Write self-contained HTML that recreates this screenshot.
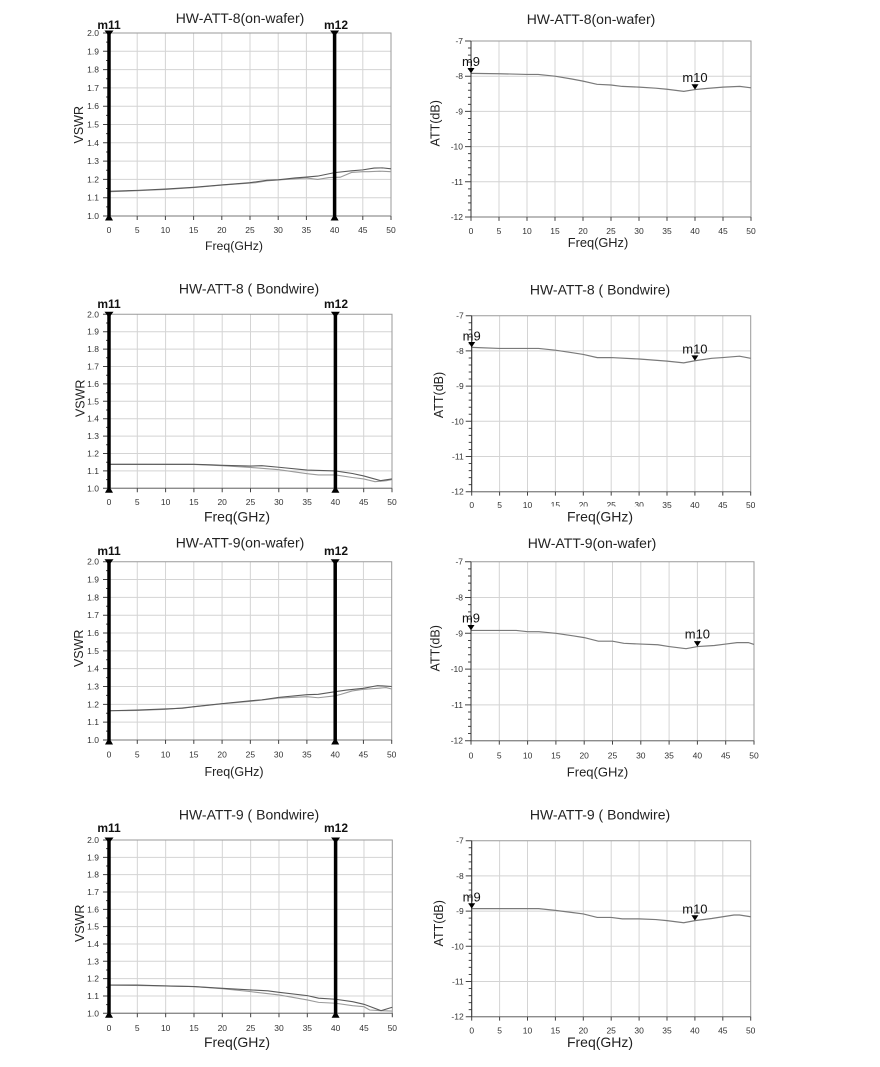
<!DOCTYPE html>
<html><head><meta charset="utf-8">
<style>
html,body{margin:0;padding:0;background:#fff;}
svg{display:block;font-family:"Liberation Sans",Arial,sans-serif;}
path,rect,polyline,line{vector-effect:non-scaling-stroke;}
.g{fill:none;stroke:#d4d4d4;stroke-width:1;}
.fr{fill:none;stroke:#9a9a9a;stroke-width:1;}
.ax{fill:none;stroke:#333;stroke-width:1;}
.bx{fill:none;stroke:#777;stroke-width:1;}
.tk{fill:none;stroke:#444;stroke-width:1;}
.c1{fill:none;stroke:#5a5a5a;stroke-width:1.1;}
.c2{fill:none;stroke:#9a9a9a;stroke-width:1.1;}
.ca{fill:none;stroke:#7a7a7a;stroke-width:1.2;}
.mk{stroke:#000;stroke-width:3.5;}
.tl{font-size:8.5px;fill:#333;}
.ttl{font-size:14px;fill:#222;}
.al{fill:#222;}
.ml{font-size:12px;font-weight:bold;fill:#111;}
.ma{font-size:13px;fill:#111;}
</style></head>
<body>
<svg width="880" height="1067" viewBox="0 0 880 1067" xmlns="http://www.w3.org/2000/svg">

<!-- ================= ROW 1 LEFT ================= -->
<text class="ttl" x="240" y="23" text-anchor="middle">HW-ATT-8(on-wafer)</text>
<g transform="translate(109,216) scale(5.64,-18.3)">
<path class="g" d="M5,0V10M10,0V10M15,0V10M20,0V10M25,0V10M30,0V10M35,0V10M40,0V10M45,0V10M0,1H50M0,2H50M0,3H50M0,4H50M0,5H50M0,6H50M0,7H50M0,8H50M0,9H50"/>
<rect class="fr" x="0" y="0" width="50" height="10"/>
<path class="bx" d="M0,0H50"/>
<path class="tk" d="M0,0h-1.06M0,1h-1.06M0,2h-1.06M0,3h-1.06M0,4h-1.06M0,5h-1.06M0,6h-1.06M0,7h-1.06M0,8h-1.06M0,9h-1.06M0,10h-1.06M0,0.5h-0.53M0,1.5h-0.53M0,2.5h-0.53M0,3.5h-0.53M0,4.5h-0.53M0,5.5h-0.53M0,6.5h-0.53M0,7.5h-0.53M0,8.5h-0.53M0,9.5h-0.53M0,0v-0.22M5,0v-0.22M10,0v-0.22M15,0v-0.22M20,0v-0.22M25,0v-0.22M30,0v-0.22M35,0v-0.22M40,0v-0.22M45,0v-0.22M50,0v-0.22"/>
<polyline class="c2" points="0,1.33 5,1.38 10,1.45 15,1.55 20,1.69 25,1.8 26,1.82 28,1.92 30,1.97 33,2.03 35,2.08 37,2.0 39,2.1 41,2.12 43,2.38 45,2.42 46,2.42 48,2.45 50,2.42"/>
<polyline class="c1" points="0,1.35 5,1.4 10,1.47 15,1.57 20,1.7 25,1.82 28,1.95 30,1.98 33,2.08 35,2.13 37,2.18 40,2.37 43,2.47 45,2.52 47,2.62 48.5,2.63 50,2.58"/>
</g>
<line class="ax" x1="109" y1="33" x2="109" y2="216"/>
<g class="tl" text-anchor="end">
<text x="99" y="219">1.0</text><text x="99" y="200.7">1.1</text><text x="99" y="182.4">1.2</text><text x="99" y="164.1">1.3</text><text x="99" y="145.8">1.4</text><text x="99" y="127.5">1.5</text><text x="99" y="109.2">1.6</text><text x="99" y="90.9">1.7</text><text x="99" y="72.6">1.8</text><text x="99" y="54.3">1.9</text><text x="99" y="36">2.0</text>
</g>
<g class="tl" text-anchor="middle">
<text x="109" y="233">0</text><text x="137.2" y="233">5</text><text x="165.4" y="233">10</text><text x="193.6" y="233">15</text><text x="221.8" y="233">20</text><text x="250" y="233">25</text><text x="278.2" y="233">30</text><text x="306.4" y="233">35</text><text x="334.6" y="233">40</text><text x="362.8" y="233">45</text><text x="391" y="233">50</text>
</g>
<line class="mk" x1="109" y1="33" x2="109" y2="216"/>
<line class="mk" x1="334.6" y1="33" x2="334.6" y2="216"/>
<path d="M104.5,30.5H113.5L109,36.5ZM330.1,30.5H339.1L334.6,36.5ZM105,220.5H113L109,213.5ZM330.6,220.5H338.6L334.6,213.5Z" fill="#000"/>
<text class="ml" x="109" y="29" text-anchor="middle">m11</text>
<text class="ml" x="336" y="29" text-anchor="middle">m12</text>
<text class="al" font-size="12.5" text-anchor="middle" transform="translate(83,124.7) rotate(-90)">VSWR</text>
<text class="al" font-size="12.3" x="234" y="250" text-anchor="middle">Freq(GHz)</text>

<!-- ================= ROW 1 RIGHT ================= -->
<text class="ttl" x="591" y="24" text-anchor="middle">HW-ATT-8(on-wafer)</text>
<g transform="translate(471,217) scale(5.6,-35.2)">
<path class="g" d="M5,0V5M10,0V5M15,0V5M20,0V5M25,0V5M30,0V5M35,0V5M40,0V5M45,0V5M0,1H50M0,2H50M0,3H50M0,4H50"/>
<rect class="fr" x="0" y="0" width="50" height="5"/>
<path class="bx" d="M0,0H50"/>
<path class="tk" d="M0,0h-1.07M0,1h-1.07M0,2h-1.07M0,3h-1.07M0,4h-1.07M0,5h-1.07M0,0.2h-0.54M0,0.4h-0.54M0,0.6h-0.54M0,0.8h-0.54M0,1.2h-0.54M0,1.4h-0.54M0,1.6h-0.54M0,1.8h-0.54M0,2.2h-0.54M0,2.4h-0.54M0,2.6h-0.54M0,2.8h-0.54M0,3.2h-0.54M0,3.4h-0.54M0,3.6h-0.54M0,3.8h-0.54M0,4.2h-0.54M0,4.4h-0.54M0,4.6h-0.54M0,4.8h-0.54M0,0v-0.11M5,0v-0.11M10,0v-0.11M15,0v-0.11M20,0v-0.11M25,0v-0.11M30,0v-0.11M35,0v-0.11M40,0v-0.11M45,0v-0.11M50,0v-0.11"/>
<polyline class="ca" points="0,4.08 5,4.07 10,4.05 12,4.05 15,4.0 18,3.92 20,3.86 22.5,3.77 25,3.75 27,3.71 30,3.69 33,3.66 35,3.63 38,3.57 40,3.62 42,3.65 45,3.69 48,3.71 50,3.67"/>
</g>
<line class="ax" x1="471" y1="41" x2="471" y2="217"/>
<g class="tl" text-anchor="end">
<text x="463" y="44">-7</text><text x="463" y="79.2">-8</text><text x="463" y="114.4">-9</text><text x="463" y="149.6">-10</text><text x="463" y="184.8">-11</text><text x="463" y="220">-12</text>
</g>
<g class="tl" text-anchor="middle">
<text x="471" y="234">0</text><text x="499" y="234">5</text><text x="527" y="234">10</text><text x="555" y="234">15</text><text x="583" y="234">20</text><text x="611" y="234">25</text><text x="639" y="234">30</text><text x="667" y="234">35</text><text x="695" y="234">40</text><text x="723" y="234">45</text><text x="751" y="234">50</text>
</g>
<path d="M467.5,68H474.5L471,73.4ZM691.5,84.2H698.5L695,89.6Z" fill="#000"/>
<text class="ma" x="471" y="66" text-anchor="middle">m9</text>
<text class="ma" x="695" y="82" text-anchor="middle">m10</text>
<text class="al" font-size="12.5" text-anchor="middle" transform="translate(439.5,123.3) rotate(-90)">ATT(dB)</text>
<text class="al" font-size="12.8" x="598" y="247" text-anchor="middle">Freq(GHz)</text>

<!-- ================= ROW 2 LEFT ================= -->
<text class="ttl" x="249" y="293.3" text-anchor="middle">HW-ATT-8 ( Bondwire)</text>
<g transform="translate(109,488.3) scale(5.66,-17.4)">
<path class="g" d="M5,0V10M10,0V10M15,0V10M20,0V10M25,0V10M30,0V10M35,0V10M40,0V10M45,0V10M0,1H50M0,2H50M0,3H50M0,4H50M0,5H50M0,6H50M0,7H50M0,8H50M0,9H50"/>
<rect class="fr" x="0" y="0" width="50" height="10"/>
<path class="bx" d="M0,0H50"/>
<path class="tk" d="M0,0h-1.06M0,1h-1.06M0,2h-1.06M0,3h-1.06M0,4h-1.06M0,5h-1.06M0,6h-1.06M0,7h-1.06M0,8h-1.06M0,9h-1.06M0,10h-1.06M0,0.5h-0.53M0,1.5h-0.53M0,2.5h-0.53M0,3.5h-0.53M0,4.5h-0.53M0,5.5h-0.53M0,6.5h-0.53M0,7.5h-0.53M0,8.5h-0.53M0,9.5h-0.53M0,0v-0.23M5,0v-0.23M10,0v-0.23M15,0v-0.23M20,0v-0.23M25,0v-0.23M30,0v-0.23M35,0v-0.23M40,0v-0.23M45,0v-0.23M50,0v-0.23"/>
<polyline class="c2" points="0,1.38 15,1.37 20,1.3 25,1.2 30,1.07 35,0.84 37,0.77 40,0.77 43,0.62 45,0.54 47,0.38 49,0.44 50,0.5"/>
<polyline class="c1" points="0,1.38 10,1.38 15,1.38 18,1.35 20,1.32 25,1.28 27,1.3 30,1.21 35,1.05 40,1.0 43,0.85 45,0.71 48,0.44 50,0.54"/>
</g>
<line class="ax" x1="109" y1="314.3" x2="109" y2="488.3"/>
<g class="tl" text-anchor="end">
<text x="99" y="491.3">1.0</text><text x="99" y="473.9">1.1</text><text x="99" y="456.5">1.2</text><text x="99" y="439.1">1.3</text><text x="99" y="421.7">1.4</text><text x="99" y="404.3">1.5</text><text x="99" y="386.9">1.6</text><text x="99" y="369.5">1.7</text><text x="99" y="352.1">1.8</text><text x="99" y="334.7">1.9</text><text x="99" y="317.3">2.0</text>
</g>
<g class="tl" text-anchor="middle">
<text x="109" y="505">0</text><text x="137.3" y="505">5</text><text x="165.6" y="505">10</text><text x="193.9" y="505">15</text><text x="222.2" y="505">20</text><text x="250.5" y="505">25</text><text x="278.8" y="505">30</text><text x="307.1" y="505">35</text><text x="335.4" y="505">40</text><text x="363.7" y="505">45</text><text x="392" y="505">50</text>
</g>
<line class="mk" x1="109" y1="314.3" x2="109" y2="488.3"/>
<line class="mk" x1="335.4" y1="314.3" x2="335.4" y2="488.3"/>
<path d="M104.5,311.8H113.5L109,317.8ZM330.9,311.8H339.9L335.4,317.8ZM105,492.8H113L109,485.8ZM331.4,492.8H339.4L335.4,485.8Z" fill="#000"/>
<text class="ml" x="109" y="308" text-anchor="middle">m11</text>
<text class="ml" x="336" y="308" text-anchor="middle">m12</text>
<text class="al" font-size="12.5" text-anchor="middle" transform="translate(84.5,398.3) rotate(-90)">VSWR</text>
<text class="al" font-size="14" x="237" y="521.7" text-anchor="middle">Freq(GHz)</text>

<!-- ================= ROW 2 RIGHT ================= -->
<text class="ttl" x="600" y="294.3" text-anchor="middle">HW-ATT-8 ( Bondwire)</text>
<g transform="translate(471.7,491.7) scale(5.58,-35.2)">
<path class="g" d="M5,0V5M10,0V5M15,0V5M20,0V5M25,0V5M30,0V5M35,0V5M40,0V5M45,0V5M0,1H50M0,2H50M0,3H50M0,4H50"/>
<rect class="fr" x="0" y="0" width="50" height="5"/>
<path class="bx" d="M0,0H50"/>
<path class="tk" d="M0,0h-1.07M0,1h-1.07M0,2h-1.07M0,3h-1.07M0,4h-1.07M0,5h-1.07M0,0.2h-0.54M0,0.4h-0.54M0,0.6h-0.54M0,0.8h-0.54M0,1.2h-0.54M0,1.4h-0.54M0,1.6h-0.54M0,1.8h-0.54M0,2.2h-0.54M0,2.4h-0.54M0,2.6h-0.54M0,2.8h-0.54M0,3.2h-0.54M0,3.4h-0.54M0,3.6h-0.54M0,3.8h-0.54M0,4.2h-0.54M0,4.4h-0.54M0,4.6h-0.54M0,4.8h-0.54M0,0v-0.11M5,0v-0.11M10,0v-0.11M15,0v-0.11M20,0v-0.11M25,0v-0.11M30,0v-0.11M35,0v-0.11M40,0v-0.11M45,0v-0.11M50,0v-0.11"/>
<polyline class="ca" points="0,4.1 5,4.07 12,4.07 15,4.02 18,3.95 20,3.9 22.5,3.81 25,3.81 30,3.77 35,3.71 38,3.66 40,3.72 43,3.79 45,3.81 48,3.85 50,3.79"/>
</g>
<line class="ax" x1="471.7" y1="315.7" x2="471.7" y2="491.7"/>
<g class="tl" text-anchor="end">
<text x="463.7" y="318.7">-7</text><text x="463.7" y="353.9">-8</text><text x="463.7" y="389.1">-9</text><text x="463.7" y="424.3">-10</text><text x="463.7" y="459.5">-11</text><text x="463.7" y="494.7">-12</text>
</g>
<g class="tl" text-anchor="middle">
<text x="471.7" y="508">0</text><text x="499.6" y="508">5</text><text x="527.5" y="508">10</text><text x="555.4" y="508">15</text><text x="583.3" y="508">20</text><text x="611.2" y="508">25</text><text x="639.1" y="508">30</text><text x="667" y="508">35</text><text x="694.9" y="508">40</text><text x="722.8" y="508">45</text><text x="750.7" y="508">50</text>
</g>
<rect x="549" y="506.5" width="99" height="19" fill="#fff"/>
<path d="M468.2,342H475.2L471.7,347.4ZM691.4,355.4H698.4L694.9,360.8Z" fill="#000"/>
<text class="ma" x="471.7" y="340.5" text-anchor="middle">m9</text>
<text class="ma" x="694.9" y="353.5" text-anchor="middle">m10</text>
<text class="al" font-size="12.5" text-anchor="middle" transform="translate(442.8,395) rotate(-90)">ATT(dB)</text>
<text class="al" font-size="14" x="600" y="521.7" text-anchor="middle">Freq(GHz)</text>

<!-- ================= ROW 3 LEFT ================= -->
<text class="ttl" x="240" y="547.3" text-anchor="middle">HW-ATT-9(on-wafer)</text>
<g transform="translate(109,740) scale(5.654,-17.83)">
<path class="g" d="M5,0V10M10,0V10M15,0V10M20,0V10M25,0V10M30,0V10M35,0V10M40,0V10M45,0V10M0,1H50M0,2H50M0,3H50M0,4H50M0,5H50M0,6H50M0,7H50M0,8H50M0,9H50"/>
<rect class="fr" x="0" y="0" width="50" height="10"/>
<path class="bx" d="M0,0H50"/>
<path class="tk" d="M0,0h-1.06M0,1h-1.06M0,2h-1.06M0,3h-1.06M0,4h-1.06M0,5h-1.06M0,6h-1.06M0,7h-1.06M0,8h-1.06M0,9h-1.06M0,10h-1.06M0,0.5h-0.53M0,1.5h-0.53M0,2.5h-0.53M0,3.5h-0.53M0,4.5h-0.53M0,5.5h-0.53M0,6.5h-0.53M0,7.5h-0.53M0,8.5h-0.53M0,9.5h-0.53M0,0v-0.22M5,0v-0.22M10,0v-0.22M15,0v-0.22M20,0v-0.22M25,0v-0.22M30,0v-0.22M35,0v-0.22M40,0v-0.22M45,0v-0.22M50,0v-0.22"/>
<polyline class="c2" points="0,1.64 5,1.66 10,1.72 15,1.86 20,2.03 25,2.17 30,2.35 35,2.43 37,2.37 40,2.48 41,2.56 43,2.75 45,2.84 47.5,2.9 49,2.94 50,2.86"/>
<polyline class="c1" points="0,1.64 5,1.68 10,1.74 13,1.78 15,1.87 20,2.04 25,2.2 27,2.25 30,2.39 35,2.54 37,2.56 40,2.71 42,2.8 45,2.9 47.5,3.05 50,3.0"/>
</g>
<line class="ax" x1="109" y1="561.7" x2="109" y2="740"/>
<g class="tl" text-anchor="end">
<text x="99" y="743">1.0</text><text x="99" y="725.2">1.1</text><text x="99" y="707.3">1.2</text><text x="99" y="689.5">1.3</text><text x="99" y="671.7">1.4</text><text x="99" y="653.9">1.5</text><text x="99" y="636">1.6</text><text x="99" y="618.2">1.7</text><text x="99" y="600.4">1.8</text><text x="99" y="582.5">1.9</text><text x="99" y="564.7">2.0</text>
</g>
<g class="tl" text-anchor="middle">
<text x="109" y="757.7">0</text><text x="137.3" y="757.7">5</text><text x="165.5" y="757.7">10</text><text x="193.8" y="757.7">15</text><text x="222.1" y="757.7">20</text><text x="250.4" y="757.7">25</text><text x="278.6" y="757.7">30</text><text x="306.9" y="757.7">35</text><text x="335.2" y="757.7">40</text><text x="363.4" y="757.7">45</text><text x="391.7" y="757.7">50</text>
</g>
<line class="mk" x1="109" y1="561.7" x2="109" y2="740"/>
<line class="mk" x1="335.2" y1="561.7" x2="335.2" y2="740"/>
<path d="M104.5,559.2H113.5L109,565.2ZM330.7,559.2H339.7L335.2,565.2ZM105,744.5H113L109,737.5ZM331.2,744.5H339.2L335.2,737.5Z" fill="#000"/>
<text class="ml" x="109" y="555" text-anchor="middle">m11</text>
<text class="ml" x="336" y="555" text-anchor="middle">m12</text>
<text class="al" font-size="12.5" text-anchor="middle" transform="translate(82.8,648.3) rotate(-90)">VSWR</text>
<text class="al" font-size="12.5" x="234" y="776" text-anchor="middle">Freq(GHz)</text>

<!-- ================= ROW 3 RIGHT ================= -->
<text class="ttl" x="592" y="548" text-anchor="middle">HW-ATT-9(on-wafer)</text>
<g transform="translate(471,740.7) scale(5.66,-35.8)">
<path class="g" d="M5,0V5M10,0V5M15,0V5M20,0V5M25,0V5M30,0V5M35,0V5M40,0V5M45,0V5M0,1H50M0,2H50M0,3H50M0,4H50"/>
<rect class="fr" x="0" y="0" width="50" height="5"/>
<path class="bx" d="M0,0H50"/>
<path class="tk" d="M0,0h-1.06M0,1h-1.06M0,2h-1.06M0,3h-1.06M0,4h-1.06M0,5h-1.06M0,0.2h-0.53M0,0.4h-0.53M0,0.6h-0.53M0,0.8h-0.53M0,1.2h-0.53M0,1.4h-0.53M0,1.6h-0.53M0,1.8h-0.53M0,2.2h-0.53M0,2.4h-0.53M0,2.6h-0.53M0,2.8h-0.53M0,3.2h-0.53M0,3.4h-0.53M0,3.6h-0.53M0,3.8h-0.53M0,4.2h-0.53M0,4.4h-0.53M0,4.6h-0.53M0,4.8h-0.53M0,0v-0.11M5,0v-0.11M10,0v-0.11M15,0v-0.11M20,0v-0.11M25,0v-0.11M30,0v-0.11M35,0v-0.11M40,0v-0.11M45,0v-0.11M50,0v-0.11"/>
<polyline class="ca" points="0,3.08 8,3.08 10,3.045 12,3.045 15,3.0 18,2.93 20,2.88 22.5,2.78 25,2.78 27,2.72 30,2.7 33,2.68 35,2.63 38,2.57 40,2.63 43,2.66 45,2.7 47,2.74 49,2.74 50,2.69"/>
</g>
<line class="ax" x1="471" y1="561.7" x2="471" y2="740.7"/>
<g class="tl" text-anchor="end">
<text x="463" y="564.7">-7</text><text x="463" y="600.5">-8</text><text x="463" y="636.3">-9</text><text x="463" y="672.1">-10</text><text x="463" y="707.9">-11</text><text x="463" y="743.7">-12</text>
</g>
<g class="tl" text-anchor="middle">
<text x="471" y="758.7">0</text><text x="499.3" y="758.7">5</text><text x="527.6" y="758.7">10</text><text x="555.9" y="758.7">15</text><text x="584.2" y="758.7">20</text><text x="612.5" y="758.7">25</text><text x="640.8" y="758.7">30</text><text x="669.1" y="758.7">35</text><text x="697.4" y="758.7">40</text><text x="725.7" y="758.7">45</text><text x="754" y="758.7">50</text>
</g>
<path d="M467.5,625H474.5L471,630.4ZM693.9,641.1H700.9L697.4,646.5Z" fill="#000"/>
<text class="ma" x="471" y="622.5" text-anchor="middle">m9</text>
<text class="ma" x="697.4" y="638.5" text-anchor="middle">m10</text>
<text class="al" font-size="12.5" text-anchor="middle" transform="translate(439.5,648.3) rotate(-90)">ATT(dB)</text>
<text class="al" font-size="13" x="597.5" y="776.7" text-anchor="middle">Freq(GHz)</text>

<!-- ================= ROW 4 LEFT ================= -->
<text class="ttl" x="249" y="819.3" text-anchor="middle">HW-ATT-9 ( Bondwire)</text>
<g transform="translate(109,1013.3) scale(5.666,-17.33)">
<path class="g" d="M5,0V10M10,0V10M15,0V10M20,0V10M25,0V10M30,0V10M35,0V10M40,0V10M45,0V10M0,1H50M0,2H50M0,3H50M0,4H50M0,5H50M0,6H50M0,7H50M0,8H50M0,9H50"/>
<rect class="fr" x="0" y="0" width="50" height="10"/>
<path class="bx" d="M0,0H50"/>
<path class="tk" d="M0,0h-1.06M0,1h-1.06M0,2h-1.06M0,3h-1.06M0,4h-1.06M0,5h-1.06M0,6h-1.06M0,7h-1.06M0,8h-1.06M0,9h-1.06M0,10h-1.06M0,0.5h-0.53M0,1.5h-0.53M0,2.5h-0.53M0,3.5h-0.53M0,4.5h-0.53M0,5.5h-0.53M0,6.5h-0.53M0,7.5h-0.53M0,8.5h-0.53M0,9.5h-0.53M0,0v-0.23M5,0v-0.23M10,0v-0.23M15,0v-0.23M20,0v-0.23M25,0v-0.23M30,0v-0.23M35,0v-0.23M40,0v-0.23M45,0v-0.23M50,0v-0.23"/>
<polyline class="c2" points="0,1.63 10,1.58 15,1.54 20,1.42 25,1.25 30,1.06 35,0.77 37,0.63 40,0.58 43,0.44 45,0.38 46,0.19 48,0.15 50,0.13"/>
<polyline class="c1" points="0,1.63 5,1.63 10,1.58 15,1.54 20,1.44 25,1.35 28,1.3 30,1.21 35,1.02 37,0.87 40,0.81 43,0.67 45,0.52 48,0.15 50,0.35"/>
</g>
<line class="ax" x1="109" y1="840" x2="109" y2="1013.3"/>
<g class="tl" text-anchor="end">
<text x="99" y="1016.3">1.0</text><text x="99" y="999">1.1</text><text x="99" y="981.7">1.2</text><text x="99" y="964.3">1.3</text><text x="99" y="947">1.4</text><text x="99" y="929.7">1.5</text><text x="99" y="912.3">1.6</text><text x="99" y="895">1.7</text><text x="99" y="877.7">1.8</text><text x="99" y="860.3">1.9</text><text x="99" y="843">2.0</text>
</g>
<g class="tl" text-anchor="middle">
<text x="109" y="1031">0</text><text x="137.3" y="1031">5</text><text x="165.7" y="1031">10</text><text x="194" y="1031">15</text><text x="222.3" y="1031">20</text><text x="250.7" y="1031">25</text><text x="279" y="1031">30</text><text x="307.3" y="1031">35</text><text x="335.6" y="1031">40</text><text x="364" y="1031">45</text><text x="392.3" y="1031">50</text>
</g>
<line class="mk" x1="109" y1="840" x2="109" y2="1013.3"/>
<line class="mk" x1="335.6" y1="840" x2="335.6" y2="1013.3"/>
<path d="M104.5,837.5H113.5L109,843.5ZM331.1,837.5H340.1L335.6,843.5ZM105,1017.8H113L109,1010.8ZM331.6,1017.8H339.6L335.6,1010.8Z" fill="#000"/>
<text class="ml" x="109" y="832" text-anchor="middle">m11</text>
<text class="ml" x="336" y="832" text-anchor="middle">m12</text>
<text class="al" font-size="12.5" text-anchor="middle" transform="translate(83.8,923.3) rotate(-90)">VSWR</text>
<text class="al" font-size="14" x="237" y="1047" text-anchor="middle">Freq(GHz)</text>

<!-- ================= ROW 4 RIGHT ================= -->
<text class="ttl" x="600" y="819.3" text-anchor="middle">HW-ATT-9 ( Bondwire)</text>
<g transform="translate(471.7,1016.7) scale(5.58,-35.2)">
<path class="g" d="M5,0V5M10,0V5M15,0V5M20,0V5M25,0V5M30,0V5M35,0V5M40,0V5M45,0V5M0,1H50M0,2H50M0,3H50M0,4H50"/>
<rect class="fr" x="0" y="0" width="50" height="5"/>
<path class="bx" d="M0,0H50"/>
<path class="tk" d="M0,0h-1.07M0,1h-1.07M0,2h-1.07M0,3h-1.07M0,4h-1.07M0,5h-1.07M0,0.2h-0.54M0,0.4h-0.54M0,0.6h-0.54M0,0.8h-0.54M0,1.2h-0.54M0,1.4h-0.54M0,1.6h-0.54M0,1.8h-0.54M0,2.2h-0.54M0,2.4h-0.54M0,2.6h-0.54M0,2.8h-0.54M0,3.2h-0.54M0,3.4h-0.54M0,3.6h-0.54M0,3.8h-0.54M0,4.2h-0.54M0,4.4h-0.54M0,4.6h-0.54M0,4.8h-0.54M0,0v-0.11M5,0v-0.11M10,0v-0.11M15,0v-0.11M20,0v-0.11M25,0v-0.11M30,0v-0.11M35,0v-0.11M40,0v-0.11M45,0v-0.11M50,0v-0.11"/>
<polyline class="ca" points="0,3.07 12,3.07 15,3.02 18,2.96 20,2.92 22.5,2.82 25,2.82 27,2.78 30,2.78 33,2.76 35,2.73 38,2.67 40,2.73 43,2.79 45,2.84 47,2.89 48,2.89 50,2.84"/>
</g>
<line class="ax" x1="471.7" y1="840.7" x2="471.7" y2="1016.7"/>
<g class="tl" text-anchor="end">
<text x="463.7" y="843.7">-7</text><text x="463.7" y="878.9">-8</text><text x="463.7" y="914.1">-9</text><text x="463.7" y="949.3">-10</text><text x="463.7" y="984.5">-11</text><text x="463.7" y="1019.7">-12</text>
</g>
<g class="tl" text-anchor="middle">
<text x="471.7" y="1033.3">0</text><text x="499.6" y="1033.3">5</text><text x="527.5" y="1033.3">10</text><text x="555.4" y="1033.3">15</text><text x="583.3" y="1033.3">20</text><text x="611.2" y="1033.3">25</text><text x="639.1" y="1033.3">30</text><text x="667" y="1033.3">35</text><text x="694.9" y="1033.3">40</text><text x="722.8" y="1033.3">45</text><text x="750.7" y="1033.3">50</text>
</g>
<path d="M468.2,903.2H475.2L471.7,908.6ZM691.4,915.2H698.4L694.9,920.6Z" fill="#000"/>
<text class="ma" x="471.7" y="901.5" text-anchor="middle">m9</text>
<text class="ma" x="694.9" y="913.5" text-anchor="middle">m10</text>
<text class="al" font-size="12.5" text-anchor="middle" transform="translate(442.8,923.3) rotate(-90)">ATT(dB)</text>
<text class="al" font-size="14" x="600" y="1047" text-anchor="middle">Freq(GHz)</text>

</svg>
</body></html>
